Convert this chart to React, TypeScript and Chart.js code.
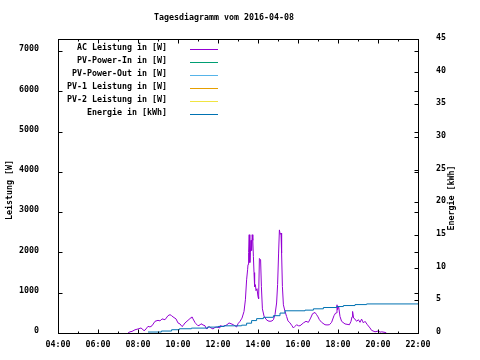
import React, { useEffect, useRef } from 'react';
import { Chart, registerables } from 'chart.js';

Chart.register(...registerables);

const TITLE = 'Tagesdiagramm vom 2016-04-08';
const Y_TITLE = 'Leistung [W]';
const Y2_TITLE = 'Energie [kWh]';

const hourTicks = [4, 5, 6, 7, 8, 9, 10, 11, 12, 13, 14, 15, 16, 17, 18, 19, 20, 21, 22];
const powerTicks = [0, 1000, 2000, 3000, 4000, 5000, 6000, 7000];
const energyTicks = [0, 5, 10, 15, 20, 25, 30, 35, 40, 45];

const seriesLabels = [
  'AC Leistung in [W]',
  'PV-Power-In in [W]',
  'PV-Power-Out in [W]',
  'PV-1 Leistung in [W]',
  'PV-2 Leistung in [W]',
  'Energie in [kWh]',
];
const seriesColors = ['#9400d3', '#009e73', '#56b4e9', '#e69f00', '#f0e442', '#0072b2'];

const acHours = [
  7.5, 7.6, 7.7, 7.85, 8.0, 8.15, 8.3, 8.35, 8.5, 8.6, 8.7, 8.85, 9.0, 9.1, 9.2, 9.35, 9.5, 9.6, 9.68,
  9.75, 9.9, 10.0, 10.1, 10.2, 10.25, 10.35, 10.5, 10.65, 10.7, 10.75, 10.85, 10.9, 11.0, 11.1, 11.15,
  11.25, 11.35, 11.4, 11.45, 11.55, 11.6, 11.75, 11.85, 11.95, 12.05, 12.1, 12.25, 12.35, 12.45, 12.55,
  12.65, 12.77, 12.85, 12.93, 13.0, 13.1, 13.2, 13.3, 13.37, 13.43, 13.48, 13.5, 13.53, 13.56, 13.59,
  13.62, 13.65, 13.68, 13.71, 13.74, 13.77, 13.8, 13.83, 13.87, 13.9, 13.95, 14.0, 14.03, 14.07, 14.13,
  14.17, 14.22, 14.3, 14.4, 14.5, 14.6, 14.7, 14.77, 14.85, 14.93, 14.98, 15.03, 15.07, 15.11, 15.15,
  15.18, 15.22, 15.27, 15.35, 15.43, 15.5, 15.6, 15.7, 15.77, 15.85, 15.93, 16.02, 16.1, 16.2, 16.27,
  16.4, 16.52, 16.63, 16.73, 16.85, 16.93, 17.0, 17.07, 17.18, 17.35, 17.45, 17.57, 17.68, 17.8, 17.88,
  17.92, 17.95, 17.98, 18.03, 18.1, 18.18, 18.35, 18.57, 18.65, 18.7, 18.73, 18.78, 18.85, 18.93, 19.02,
  19.1, 19.18, 19.27, 19.35, 19.47, 19.6, 19.68, 19.85, 19.95, 20.02, 20.1, 20.18, 20.35, 20.42,
];
const acWatts = [
  0, 30, 40, 80, 100, 125, 60, 70, 165, 150, 180, 290, 315, 300, 350, 330, 430, 455, 430,
  400, 350, 250, 225, 160, 180, 250, 315, 380, 400, 350, 260, 230, 180, 200, 230,
  200, 180, 120, 100, 165, 140, 100, 140, 150, 130, 180, 165, 180, 205, 250,
  230, 205, 180, 150, 230, 290, 370, 535, 825, 1320, 1570, 1700, 2000, 2440, 1750,
  2000, 2300, 2050, 2440, 2300, 1900, 1500, 1150, 1200, 1050, 1100, 900, 850, 1850, 1820,
  1150, 600, 420, 340, 300, 290, 300, 330, 455, 745, 1200, 1985, 2560, 2450, 2480,
  1985, 1155, 700, 535, 410, 300, 250, 180, 125, 165, 205, 180, 180, 220, 250,
  290, 265, 370, 480, 510, 455, 400, 330, 265, 205, 200, 205, 265, 430, 495,
  500, 700, 580, 660, 410, 290, 225, 205, 290, 400, 535, 370, 345, 290, 330,
  265, 345, 250, 290, 205, 125, 65, 30, 40, 55, 20, 30, 15, 0,
];

const energyHours = [
  8.5, 9.17, 9.68, 10.07, 10.67, 11.47, 12.0, 12.3, 13.18, 13.43, 13.68, 13.93, 14.27, 14.77, 15.1,
  15.35, 16.35, 16.77, 17.27, 17.93, 18.27, 18.85, 19.43, 22.0,
];
const energyKWh = [
  0.15, 0.3, 0.5, 0.65, 0.75, 0.9, 1.0, 1.1, 1.2, 1.5, 1.9, 2.2, 2.4, 2.65, 3.05,
  3.4, 3.5, 3.7, 3.9, 4.05, 4.2, 4.35, 4.45, 4.45,
];

const FONT_FAMILY = '"DejaVu Sans Mono", "Liberation Mono", monospace';
const FONT_SIZE = 8.3;
const FONT_WEIGHT = 'bold';

const pad2 = (n: number) => (n < 10 ? '0' + n : String(n));

const gnuFrame = {
  id: 'gnuFrame',
  afterDraw(chart: any) {
    const { ctx, chartArea: a, scales } = chart;
    const L = Math.round(a.left) + 0.5;
    const R = Math.round(a.right) + 0.5;
    const T = Math.round(a.top) + 0.5;
    const B = Math.round(a.bottom) + 0.5;
    ctx.save();
    ctx.strokeStyle = '#000';
    ctx.lineWidth = 1;
    ctx.strokeRect(L, T, R - L, B - T);
    ctx.beginPath();
    for (const h of hourTicks) {
      const px = Math.round(scales.x.getPixelForValue(h)) + 0.5;
      const len = h % 2 === 0 ? 4 : 2;
      ctx.moveTo(px, B);
      ctx.lineTo(px, B - len);
      ctx.moveTo(px, T);
      ctx.lineTo(px, T + len);
    }
    for (const v of powerTicks) {
      const py = Math.round(scales.y.getPixelForValue(v)) + 0.5;
      ctx.moveTo(L, py);
      ctx.lineTo(L + 4, py);
      ctx.moveTo(R, py);
      ctx.lineTo(R - 4, py);
    }
    for (const v of energyTicks) {
      const py = Math.round(scales.y2.getPixelForValue(v)) + 0.5;
      ctx.moveTo(R, py);
      ctx.lineTo(R - 4, py);
    }
    ctx.stroke();

    ctx.fillStyle = '#000';
    ctx.font = `${FONT_WEIGHT} ${FONT_SIZE}px ${FONT_FAMILY}`;
    ctx.textAlign = 'center';
    ctx.textBaseline = 'middle';
    ctx.fillText(TITLE, 224, 18);

    ctx.save();
    ctx.translate(10, 190);
    ctx.rotate(-Math.PI / 2);
    ctx.fillText(Y_TITLE, 0, 0);
    ctx.restore();

    ctx.save();
    ctx.translate(452, 198);
    ctx.rotate(-Math.PI / 2);
    ctx.fillText(Y2_TITLE, 0, 0);
    ctx.restore();

    chart.data.datasets.forEach((ds: any, i: number) => {
      const y = 47.5 + 13 * i;
      ctx.textAlign = 'right';
      ctx.fillStyle = '#000';
      ctx.fillText(ds.label, 167, y);
      ctx.strokeStyle = ds.borderColor;
      ctx.lineWidth = 1;
      const ly = Math.round(y + 1.5) + 0.5;
      ctx.beginPath();
      ctx.moveTo(190, ly);
      ctx.lineTo(218, ly);
      ctx.stroke();
    });
    ctx.restore();
  },
};

export default function App() {
  const ref = useRef<HTMLCanvasElement | null>(null);

  useEffect(() => {
    if (!ref.current) return;
    const tickFont = { family: FONT_FAMILY, size: FONT_SIZE, weight: FONT_WEIGHT };
    const datasets = seriesLabels.map((label, i) => {
      let data: { x: number; y: number }[] = [];
      let yAxisID = 'y';
      let order = 2;
      let stepped: any = false;
      if (i === 0) {
        data = acHours.map((h, k) => ({ x: h, y: acWatts[k] }));
        order = 1;
      } else if (i === 5) {
        data = energyHours.map((h, k) => ({ x: h, y: energyKWh[k] }));
        yAxisID = 'y2';
        order = 0;
        stepped = true;
      }
      return {
        label,
        data,
        yAxisID,
        order,
        stepped,
        borderColor: seriesColors[i],
        backgroundColor: seriesColors[i],
        borderWidth: 1,
        pointRadius: 0,
        fill: false,
        tension: 0,
      };
    });

    const chart = new Chart(ref.current, {
      type: 'line',
      data: { datasets },
      options: {
        responsive: false,
        animation: false,
        devicePixelRatio: 1,
        layout: { padding: { top: 39, left: 0, right: 0, bottom: 0 } },
        plugins: { legend: { display: false }, tooltip: { enabled: false }, title: { display: false } },
        scales: {
          x: {
            type: 'linear',
            position: 'bottom',
            min: hourTicks[0],
            max: hourTicks[hourTicks.length - 1],
            grid: { display: false },
            border: { display: false },
            afterBuildTicks: (s: any) => {
              s.ticks = hourTicks.map((v) => ({ value: v }));
            },
            afterFit: (s: any) => {
              s.height = 27;
            },
            ticks: {
              font: tickFont,
              color: '#000',
              padding: -1,
              maxRotation: 0,
              autoSkip: false,
              callback: (v: any) => (Number(v) % 2 === 0 ? pad2(Number(v)) + ':00' : ''),
            },
          },
          y: {
            type: 'linear',
            position: 'left',
            min: 0,
            max: 7300,
            grid: { display: false },
            border: { display: false },
            afterBuildTicks: (s: any) => {
              s.ticks = powerTicks.map((v) => ({ value: v }));
            },
            afterFit: (s: any) => {
              s.width = 58;
            },
            ticks: {
              font: tickFont,
              color: '#000',
              padding: 11,
              labelOffset: -2,
              callback: (v: any) => String(v),
            },
          },
          y2: {
            type: 'linear',
            position: 'right',
            min: 0,
            max: 45,
            grid: { display: false },
            border: { display: false },
            afterBuildTicks: (s: any) => {
              s.ticks = energyTicks.map((v) => ({ value: v }));
            },
            afterFit: (s: any) => {
              s.width = 62;
            },
            ticks: {
              font: tickFont,
              color: '#000',
              padding: 10,
              labelOffset: -1,
              callback: (v: any) => String(v),
            },
          },
        },
      } as any,
      plugins: [gnuFrame],
    });
    return () => chart.destroy();
  }, []);

  return (
    <div style={{ position: 'fixed', left: 0, top: 0, width: 480, height: 360, background: '#fff' }}>
      <canvas ref={ref} width={480} height={360} style={{ display: 'block', width: 480, height: 360 }} />
    </div>
  );
}
